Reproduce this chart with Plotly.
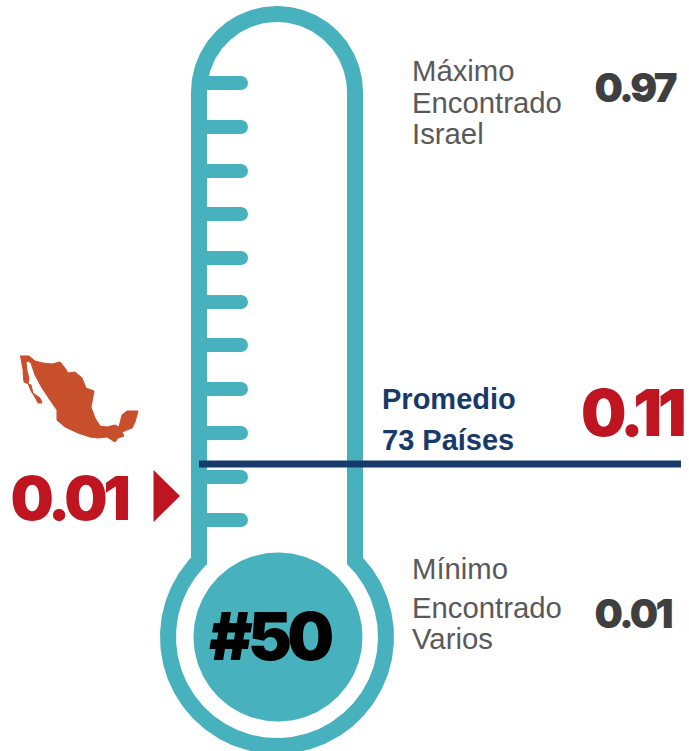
import numpy as np
import plotly.graph_objects as go

W, H = 689, 751
TEAL = "#47B2BD"
RED = "#BE1520"
NAVY = "#163A69"
GREY = "#595959"
DARK = "#3F3F3F"
ORANGE = "#C84F2B"

# Values and labels
rank_label = "#50"
mexico_value = "0.01"
avg_value = "0.11"
max_value = "0.97"
min_value = "0.01"
avg_labels = ["Promedio", "73 Países"]
max_labels = ["Máximo", "Encontrado", "Israel"]
min_labels = ["Mínimo", "Encontrado", "Varios"]

# Scale ticks on the thermometer (vertical positions in the picture)
tick_y = [83, 127, 171, 214, 258, 302, 345, 389, 433, 477, 520]

# Outline of Mexico
mexico_x = [20, 29, 35, 43, 52, 60, 65, 68, 75, 82, 86, 94, 91, 95, 100, 107, 115, 119, 122, 127, 138,
            135, 132, 122, 124, 118, 115, 107, 98, 90, 78, 65, 57, 57, 50, 42, 35, 31, 28, 26, 27, 29,
            28, 31, 35, 38, 42, 40, 33, 31, 24, 23]
mexico_y = [356, 356, 361, 363, 364, 362, 368, 373, 372, 378, 388, 391, 407, 418, 426, 427, 425, 427,
            415, 411, 411, 422, 428, 432, 436, 438, 442, 437, 438, 437, 433, 427, 420, 410, 400, 388,
            375, 363, 361, 362, 371, 378, 383, 391, 397, 403, 403, 398, 393, 385, 382, 372]


def arc(cx, cy, r, a0, a1, n=120):
    t = np.radians(np.linspace(a0, a1, n))
    return cx + r * np.cos(t), cy + r * np.sin(t)


def body(half_tube, top_y, bulb_r):
    cx, cy = 277, 637
    ax, ay = arc(cx, top_y, half_tube, 180, 360)
    start = np.degrees(np.arcsin(half_tube / bulb_r))
    bx, by = arc(cx, cy, bulb_r, -90 + start, 270 - start, 240)
    return np.r_[ax, bx], np.r_[ay, by]


fig = go.Figure()


def poly(x, y, color, edge=0):
    fig.add_trace(go.Scatter(x=list(x), y=list(y), mode="lines", fill="toself", fillcolor=color,
                             line=dict(width=edge, color=color), hoverinfo="skip", showlegend=False))


poly(*body(86, 92, 117), TEAL)
poly(*body(70, 92, 101), "#FFFFFF")
poly(*arc(278, 637, 84.5, 0, 360, 240), TEAL)

for y in tick_y:
    fig.add_trace(go.Scatter(x=[200, 241], y=[y, y], mode="lines+markers",
                             line=dict(color=TEAL, width=14),
                             marker=dict(color=TEAL, size=14, opacity=1, line=dict(width=0)),
                             hoverinfo="skip", showlegend=False))

fig.add_trace(go.Scatter(x=[199, 681], y=[464, 464], mode="lines", line=dict(color=NAVY, width=7),
                         hoverinfo="skip", showlegend=False))
poly([153.5, 180, 153.5, 153.5], [470, 496, 522, 470], RED)
poly(mexico_x, mexico_y, ORANGE, edge=1)


def note(x, y, text, size, color, family="Liberation Sans", weight=400):
    fig.add_annotation(x=x, y=y, text=text, showarrow=False, xanchor="left", yanchor="middle",
                       font=dict(family=family, size=size, color=color, weight=weight))


for y, t in zip([70, 102, 133], max_labels):
    note(410, y, t, 29.3, GREY)
for y, t in zip([568, 607, 638], min_labels):
    note(410, y, t, 29.3, GREY)
for y, t in zip([399, 440], avg_labels):
    note(380, y, t, 29, NAVY, weight=700)

note(587, 87, max_value, 40, DARK, "Inter", 900)
note(587, 613, min_value, 40, DARK, "Inter", 900)
note(570, 412, avg_value, 64, RED, "Inter", 900)
note(0, 498, mexico_value, 61, RED, "Inter", 900)
note(200, 636, rank_label, 66, "#000000", "Inter", 900)

fig.update_layout(
    width=W, height=H, margin=dict(l=0, r=0, t=0, b=0),
    paper_bgcolor="white", plot_bgcolor="white", showlegend=False,
    xaxis=dict(range=[0, W], visible=False, fixedrange=True),
    yaxis=dict(range=[H, 0], visible=False, fixedrange=True),
)
post = """
document.body.style.margin = '0';
document.querySelectorAll('.annotation-text').forEach(function (t) {
  var fs = parseFloat(t.style.fontSize);
  if (fs >= 38) { t.style.letterSpacing = (-0.07 * fs) + 'px'; }
});
"""
fig.write_html("out.html", config={"displayModeBar": False}, post_script=post)
